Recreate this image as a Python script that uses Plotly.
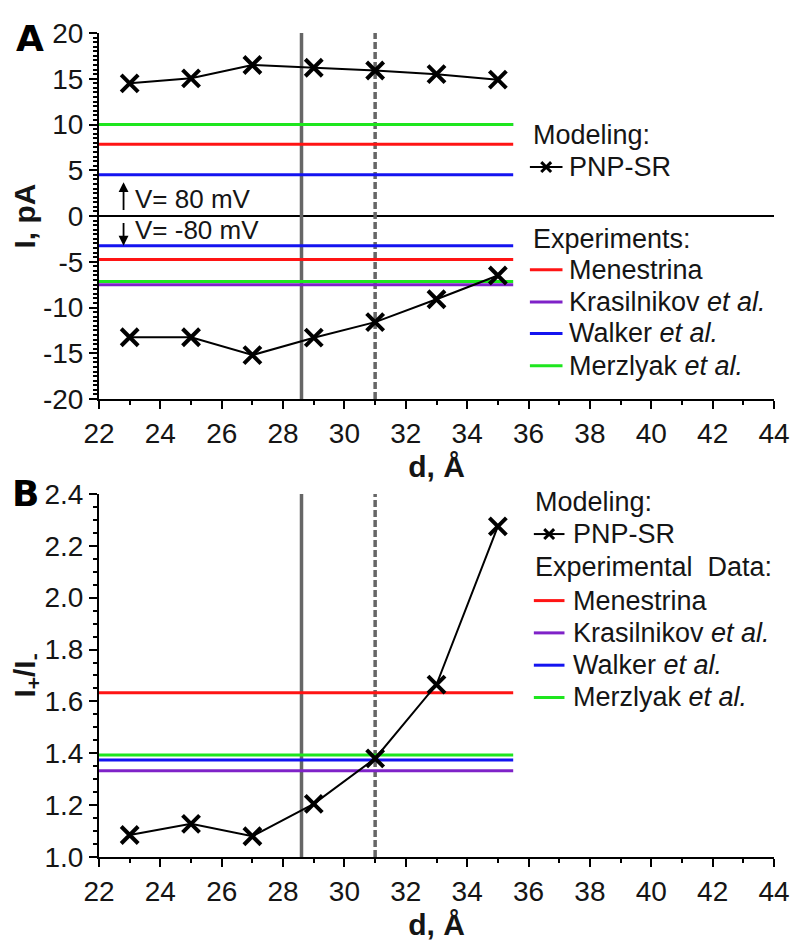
import plotly.graph_objects as go

# ---------------- data ----------------
d = [23, 25, 27, 29, 31, 33, 35]
I_pos = [14.5, 15.05, 16.5, 16.2, 15.9, 15.5, 14.9]
I_neg = [-13.25, -13.25, -15.2, -13.3, -11.6, -9.1, -6.5]
ratio = [1.085, 1.128, 1.08, 1.205, 1.38, 1.665, 2.275]

exp_names = ["Menestrina", "Krasilnikov <i>et al.</i>", "Walker <i>et al.</i>", "Merzlyak <i>et al.</i>"]
exp_colors = ["#ff1414", "#7f22c8", "#1414f0", "#1ee61e"]
exp_I_pos = [7.85, 10.0, 4.5, 10.0]
exp_I_neg = [-4.75, -7.5, -3.25, -7.15]
exp_ratio = [1.633, 1.333, 1.374, 1.393]

d_span = [22, 35.5]          # extent of the experimental reference lines
d_marks = [28.6, 31.0]       # vertical reference lines (solid, dashed)
mark_dash = ["solid", "7px,3px"]

xA_range = [22, 44]
yA_range = [-20, 20]
yB_range = [1.0, 2.4]
x_ticks = list(range(22, 45, 2))
yA_ticks = [20, 15, 10, 5, 0, -5, -10, -15, -20]
yA_text = ["20", "15", "10", "5", "0", "-5", "-10", "-15", "-20"]
yB_ticks = [1.0, 1.2, 1.4, 1.6, 1.8, 2.0, 2.2, 2.4]
yB_text = ["1.0", "1.2", "1.4", "1.6", "1.8", "2.0", "2.2", "2.4"]

FONT = "Liberation Sans, Arial, sans-serif"
TXT = "#151515"
LFS = 27

# page geometry (the page body adds an 8 px offset)
W, H = 792, 938
PL, PR, PT, PB = 97, 780, 18, 860   # plot area in page pixels


def px(xp):
    return (xp - PL) / (PR - PL)


def py(yp):
    return 1 - (yp - PT) / (PB - PT)


fig = go.Figure()

# vertical reference lines
for xa, ya, yr in [("x", "y", yA_range), ("x2", "y2", yB_range)]:
    for v, dsh in zip(d_marks, mark_dash):
        fig.add_trace(go.Scatter(x=[v, v], y=yr, xaxis=xa, yaxis=ya, mode="lines",
                                 line=dict(color="#666666", width=3.5, dash=dsh),
                                 showlegend=False, hoverinfo="skip"))

# experimental lines, panel A
for nm, c, p, n in zip(exp_names, exp_colors, exp_I_pos, exp_I_neg):
    fig.add_trace(go.Scatter(
        x=[d_span[0], d_span[1], None, d_span[0], d_span[1]], y=[p, p, None, n, n],
        xaxis="x", yaxis="y", mode="lines", line=dict(color=c, width=3),
        name=nm, showlegend=False))

# experimental lines, panel B
for nm, c, r in zip(exp_names, exp_colors, exp_ratio):
    fig.add_trace(go.Scatter(
        x=d_span, y=[r, r], xaxis="x2", yaxis="y2", mode="lines", line=dict(color=c, width=3),
        name=nm, showlegend=False))

mk = dict(symbol="x-thin", size=17, color="black", line=dict(color="black", width=4))

fig.add_trace(go.Scatter(x=d, y=I_pos, xaxis="x", yaxis="y", mode="lines+markers",
                         line=dict(color="black", width=2), marker=mk, name="PNP-SR", showlegend=False))
fig.add_trace(go.Scatter(x=d, y=I_neg, xaxis="x", yaxis="y", mode="lines+markers",
                         line=dict(color="black", width=2), marker=mk, name="PNP-SR", showlegend=False))
fig.add_trace(go.Scatter(x=d, y=ratio, xaxis="x2", yaxis="y2", mode="lines+markers",
                         line=dict(color="black", width=2), marker=mk, name="PNP-SR", showlegend=False))

axis_common = dict(showline=True, linecolor="black", linewidth=2, showgrid=False,
                   ticks="outside", ticklen=8, tickwidth=2, tickcolor="black",
                   tickfont=dict(size=28, family=FONT, color=TXT), mirror=False)

xaxis_common = dict(axis_common, range=xA_range, tickvals=x_ticks,
                    minor=dict(dtick=1, ticklen=4, tickwidth=2, tickcolor="black", ticks="outside"),
                    title=dict(text="<b>d, Å</b>", font=dict(size=30, family=FONT, color=TXT), standoff=8),
                    zeroline=False)

fig.update_layout(
    width=W, height=H,
    margin=dict(l=PL - 8, r=W + 8 - PR, t=PT - 8, b=H + 8 - PB),
    paper_bgcolor="white", plot_bgcolor="white",
    font=dict(family=FONT, color=TXT),
    showlegend=False,
    xaxis=dict(xaxis_common, anchor="y", domain=[0, 1]),
    xaxis2=dict(xaxis_common, anchor="y2", domain=[0, 1]),
    yaxis=dict(axis_common, anchor="x", domain=[py(392), 1], range=yA_range,
               tickvals=yA_ticks, ticktext=yA_text,
               minor=dict(dtick=0.5, ticklen=4, tickwidth=1.5, tickcolor="black", ticks="outside"),
               zeroline=True, zerolinecolor="black", zerolinewidth=1.5,
               title=dict(text="<b>I, pA</b>", font=dict(size=30, family=FONT, color=TXT), standoff=4)),
    yaxis2=dict(axis_common, anchor="x2", domain=[0, py(489)], range=yB_range,
                tickvals=yB_ticks, ticktext=yB_text,
                minor=dict(dtick=0.05, ticklen=4, tickwidth=1.5, tickcolor="black", ticks="outside"),
                zeroline=False,
                title=dict(text="<b>I<sub>+</sub>/I<sub>-</sub></b>", font=dict(size=30, family=FONT, color=TXT), standoff=4)),
)

# ---------------- hand-made legends ----------------
def legend_text(text, xp, yp, size=LFS):
    fig.add_annotation(text=text, xref="paper", yref="paper", x=px(xp - 2), y=py(yp),
                       xanchor="left", yanchor="middle", showarrow=False,
                       font=dict(size=size, family=FONT, color=TXT))


def legend_swatch(color, x0, x1, yp, width=3):
    fig.add_shape(type="line", xref="paper", yref="paper", x0=px(x0), x1=px(x1),
                  y0=py(yp), y1=py(yp), line=dict(color=color, width=width))


def legend_model(x0, x1, yp):
    legend_swatch("black", x0, x1, yp, width=2)
    xc = (x0 + x1) / 2
    for dy in (-5, 5):
        fig.add_shape(type="line", xref="paper", yref="paper", x0=px(xc - 5), x1=px(xc + 5),
                      y0=py(yp - dy), y1=py(yp + dy), line=dict(color="black", width=3))


# panel A legend
legend_text("Modeling:", 536, 122)
legend_model(533, 566, 155)
legend_text("PNP-SR", 573, 155)
legend_text("Experiments:", 536, 228)
for nm, c, yp in zip(exp_names, exp_colors, [260, 293, 325, 358]):
    legend_swatch(c, 533, 566, yp)
    legend_text(nm, 573, yp)

# panel B legend
legend_text("Modeling:", 538, 497)
legend_model(537, 568, 530)
legend_text("PNP-SR", 577, 530)
legend_text("Experimental&nbsp; Data:", 538, 564)
for nm, c, yp in zip(exp_names, exp_colors, [598, 631, 664, 697]):
    legend_swatch(c, 537, 568, yp)
    legend_text(nm, 577, yp)

# panel letters
LETTER_FONT = "DejaVu Sans, Liberation Sans, sans-serif"
fig.add_annotation(text="<b>A</b>", xref="paper", yref="paper", x=px(27), y=py(24),
                   xanchor="center", yanchor="middle", showarrow=False,
                   font=dict(size=36, family=LETTER_FONT, color="black"))
fig.add_annotation(text="<b>B</b>", xref="paper", yref="paper", x=px(23), y=py(489),
                   xanchor="center", yanchor="middle", showarrow=False,
                   font=dict(size=36, family=LETTER_FONT, color="black"))

# voltage annotations
fig.add_annotation(x=22.8, y=3.7, ax=22.8, ay=0.5, xref="x", yref="y", axref="x", ayref="y",
                   text="", showarrow=True, arrowhead=2, arrowsize=1.1, arrowwidth=1.8, arrowcolor="black")
fig.add_annotation(x=22.8, y=-3.25, ax=22.8, ay=-0.6, xref="x", yref="y", axref="x", ayref="y",
                   text="", showarrow=True, arrowhead=2, arrowsize=1.1, arrowwidth=1.8, arrowcolor="black")
fig.add_annotation(x=23.1, y=1.9, xref="x", yref="y", text="V= 80 mV", showarrow=False,
                   xanchor="left", yanchor="middle", font=dict(size=26, family=FONT, color=TXT))
fig.add_annotation(x=23.1, y=-1.55, xref="x", yref="y", text="V= -80 mV", showarrow=False,
                   xanchor="left", yanchor="middle", font=dict(size=26, family=FONT, color=TXT))

fig.write_html("out.html")
